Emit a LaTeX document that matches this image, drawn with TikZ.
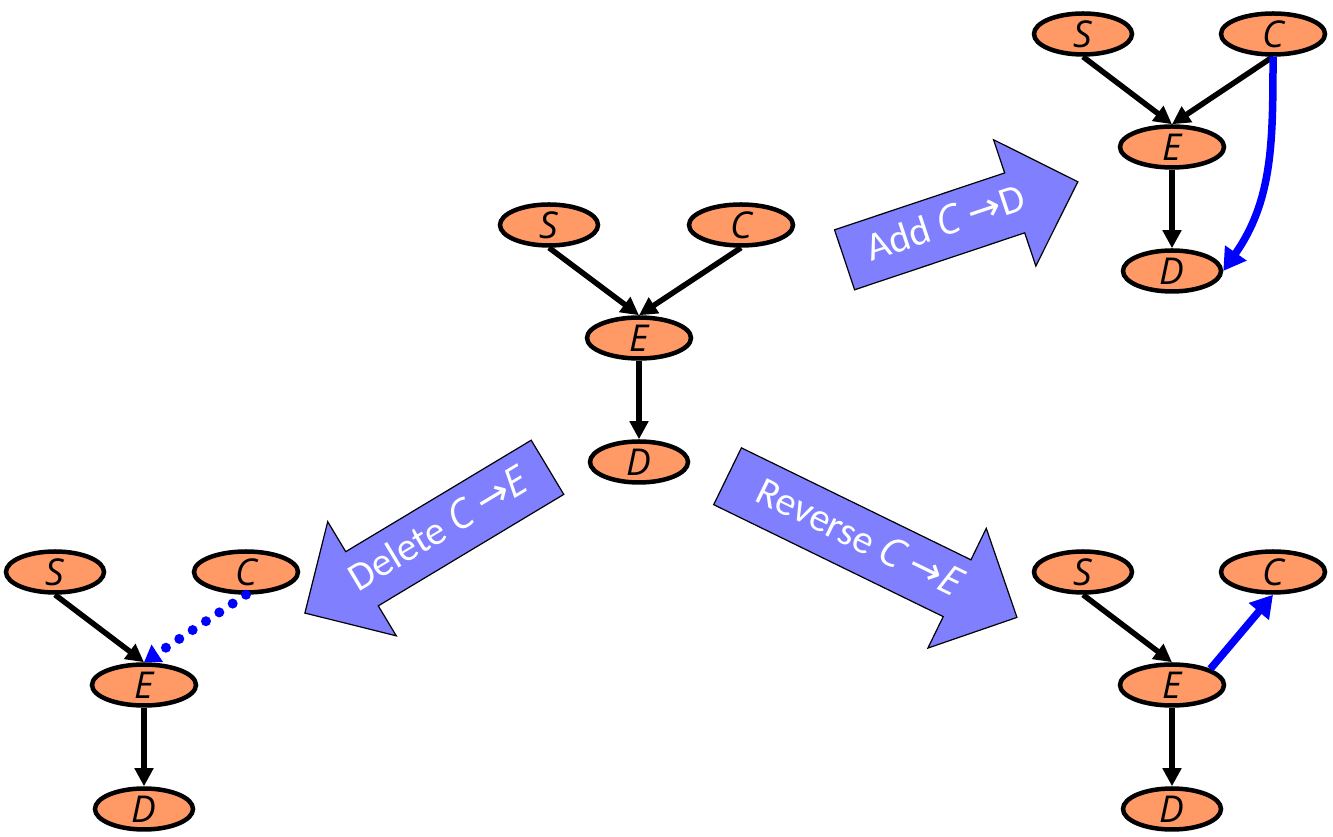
\documentclass[tikz,border=0pt]{standalone}
\usepackage{fontspec}
\setmainfont{Carlito}
\newfontfamily\varfont{Open Sans}
\newfontfamily\symfont{DejaVu Sans}
\usepackage{xcolor}
\definecolor{peach}{RGB}{255,153,102}
\definecolor{lavender}{RGB}{128,128,255}
\usepackage{tikz}
\usetikzlibrary{positioning,arrows.meta,shapes.geometric,shapes.arrows}
\tikzset{
  var/.style={
    ellipse,draw=black,fill=peach,line width=4.5pt,minimum width=98pt,minimum height=41pt,inner sep=0pt,
    font=\varfont\itshape\fontsize{37}{42}\selectfont
  },
  varw/.style={var,minimum width=104pt},
  edge/.style={draw, line width=5.5pt, -{Triangle[length=18pt,width=18pt]}},
  newedge/.style={draw=blue, line width=7.5pt, -{Triangle[length=22pt,width=25pt]}},
  goneedge/.style={draw=blue, line width=10pt, line cap=round, dash pattern=on 0pt off 16pt, -{Triangle[length=16pt,width=20pt]}},
  op/.style={
    single arrow,draw=black,fill=lavender,line width=1.2pt,text=white,anchor=tail,
    inner xsep=10pt,inner ysep=13pt,text height=28pt,text depth=8pt,
    minimum width=132pt,single arrow head extend=35pt,single arrow tip angle=90,
    font=\fontsize{40}{46}\selectfont
  },
}
\newcommand{\opvar}[1]{{\varfont\itshape #1}}
\newcommand{\oparrow}{{\symfont →}}

\begin{document}
\begin{tikzpicture}[x=1pt,y=1pt,on grid]
  \useasboundingbox (0,0) rectangle (1333,837);

  % starting network
  \node[var] (sM) at (549,612) {S};
  \node[varw,right=192pt of sM] (cM) {C};
  \node[varw,below right=113pt and 90pt of sM] (eM) {E};
  \node[var,below=124pt of eM] (dM) {D};

  % after adding C -> D
  \node[var] (sA) at (1083,803) {S};
  \node[varw,right=190pt of sA] (cA) {C};
  \node[varw,below right=113pt and 89pt of sA] (eA) {E};
  \node[var,below=124pt of eA] (dA) {D};

  % after deleting C -> E
  \node[var] (sD) at (55,265) {S};
  \node[varw,right=191pt of sD] (cD) {C};
  \node[varw,below right=113pt and 89pt of sD] (eD) {E};
  \node[var,below=124pt of eD] (dD) {D};

  % after reversing C -> E
  \node[var] (sR) at (1083,265) {S};
  \node[varw,right=190pt of sR] (cR) {C};
  \node[varw,below right=113pt and 89pt of sR] (eR) {E};
  \node[var,below=124pt of eR] (dR) {D};

  % operators
  \node[op,rotate=18.5,minimum height=246pt] (add) at (844,577) {Add \opvar{C} \oparrow D};
  \node[op,rotate=31,shape border rotate=180,minimum height=283pt] (del) at (548,370) {Delete \opvar{C} \oparrow\opvar{E}};
  \node[op,rotate=-26,minimum height=322pt] (rev) at (727,361) {Reverse \opvar{C} \oparrow\opvar{E}};

  \draw[edge] (sM.south) -- (eM.north);
  \draw[edge] (cM.south) -- (eM.north);
  \draw[edge] (eM.south) -- (dM.north);

  \draw[edge] (sA.south) -- (eA.north);
  \draw[edge] (cA.south) -- (eA.north);
  \draw[edge] (eA.south) -- (dA.north);
  \draw[newedge] (cA.south) to[out=-90,in=55] (dA.east);

  \draw[edge] (sD.south) -- (eD.north);
  \draw[goneedge] (cD.south) -- (eD.north);
  \draw[edge] (eD.south) -- (dD.north);

  \draw[edge] (sR.south) -- (eR.north);
  \draw[newedge] (eR.north east) -- (cR.south);
  \draw[edge] (eR.south) -- (dR.north);
\end{tikzpicture}
\end{document}
